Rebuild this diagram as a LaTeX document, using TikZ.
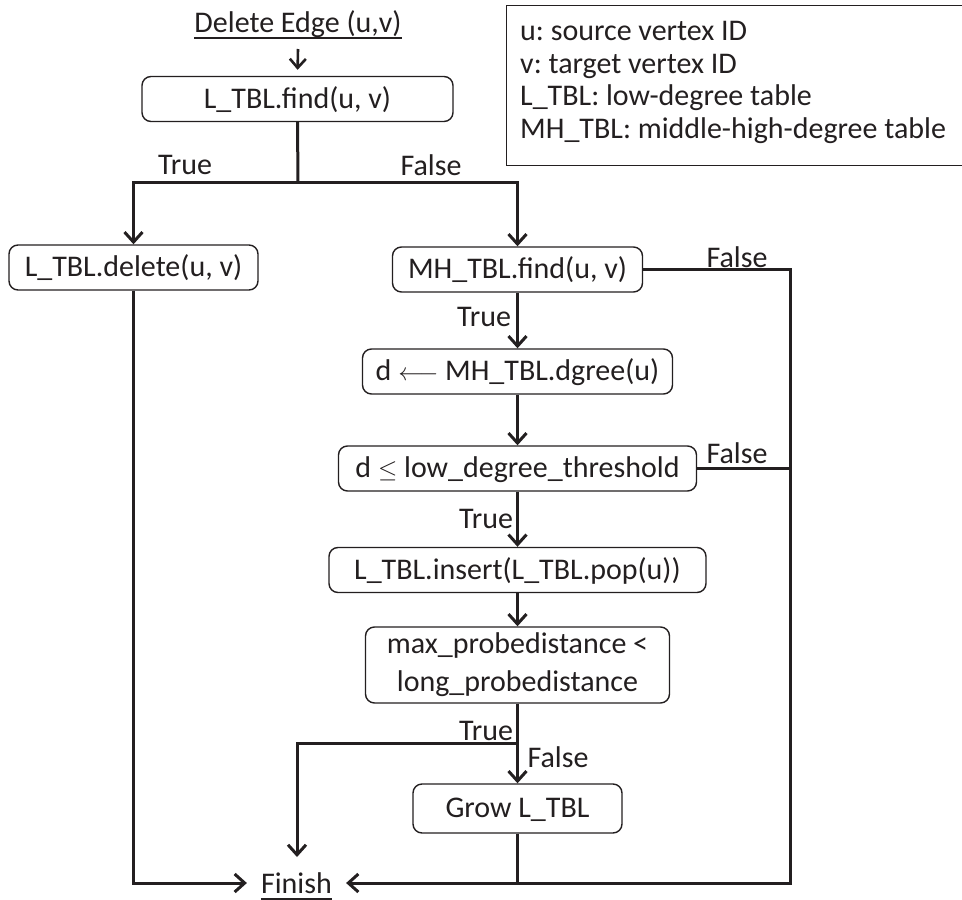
\documentclass[tikz,border=0pt]{standalone}
\usepackage{fontspec}
\setmainfont{Carlito}
\usetikzlibrary{arrows.meta}
\definecolor{ink}{RGB}{35,31,32}
\frenchspacing
\begin{document}
\begin{tikzpicture}[x=1pt,y=-1pt,
  every node/.style={font=\fontsize{30}{38}\selectfont, text=ink},
  boxbase/.style={draw=ink, line width=1.4pt, rounded corners=9pt, inner sep=0pt},
  stepbox/.style={boxbase, minimum height=45pt, text height=21pt, text depth=3pt},
  flow/.style={draw=ink, line width=3pt},
  arr/.style={flow, -{Straight Barb[length=10pt,width=18pt]}},
  lbl/.style={inner sep=0pt},
  uline/.style={draw=ink, line width=1.8pt},
]
\useasboundingbox (0,0) rectangle (962,900);

% start
\node[lbl, anchor=base] (start) at (298,32) {Delete Edge (u,v)};
\draw[uline] ([yshift=-6pt]start.base west) -- ([yshift=-6pt]start.base east);
\coordinate (startout) at (298,49);

% boxes
\node[stepbox, minimum width=311pt] (find1) at (297.5,99) {L\_TBL.find(u, v)};
\node[stepbox, minimum width=249pt] (del) at (133.5,267.5) {L\_TBL.delete(u, v)};
\node[stepbox, minimum width=250pt] (mhfind) at (517.5,269.5) {MH\_TBL.find(u, v)};
\node[stepbox, minimum width=310pt] (deg) at (517.5,371.5) {d $\longleftarrow$ MH\_TBL.dgree(u)};
\node[stepbox, minimum width=358pt] (thr) at (517.5,468.5) {d $\leq$ low\_degree\_threshold};
\node[stepbox, minimum width=377pt] (ins) at (517.5,570) {L\_TBL.insert(L\_TBL.pop(u))};
\node[boxbase, minimum width=304pt, minimum height=76pt, align=center] (probe) at (517.5,665)
  {max\_probedistance <\\long\_probedistance};
\node[stepbox, minimum width=209pt, minimum height=49pt] (grow) at (517.5,808.5) {Grow L\_TBL};

% finish
\node[inner xsep=14pt, inner ysep=0pt] (fin) at (296.5,883) {Finish};
\draw[uline] ([xshift=14pt,yshift=-6pt]fin.base west) -- ([xshift=-14pt,yshift=-6pt]fin.base east);

% legend
\node[draw=ink, line width=1.4pt, minimum width=458pt, minimum height=160pt, anchor=north west, inner sep=0pt] (legend) at (506,5) {};
\node[lbl, anchor=base west] (k1) at (520,40.5) {u: source vertex ID};
\node[lbl, anchor=base west] (k2) at (520,73) {v: target vertex ID};
\node[lbl, anchor=base west] (k3) at (520,105.5) {L\_TBL: low-degree table};
\node[lbl, anchor=base west] (k4) at (520,138) {MH\_TBL: middle-high-degree table};

% helper points
\coordinate (split) at (298,182);
\coordinate (rail) at (790,883);
\coordinate (branch) at (517.5,743);
\coordinate (trueend) at (297,857);

% connectors
\draw[flow, line width=2.6pt, -{Straight Barb[length=9pt,width=16pt]}, shorten >=6pt] (startout) -- (find1.north);
\draw[flow] (find1.south) -- (split);
\draw[arr] (split) -| (del.north);
\draw[arr] (split) -| (mhfind.north);
\draw[arr] (mhfind.south) -- (deg.north);
\draw[arr] (deg.south) -- (thr.north);
\draw[arr] (thr.south) -- (ins.north);
\draw[arr] (ins.south) -- (probe.north);
\draw[flow] (probe.south) -- (branch);
\draw[arr] (branch) -- (grow.north);
\draw[arr] (branch) -| (trueend);
\draw[arr] (del.south) |- (fin.west);
\draw[arr] (mhfind.east) -| (rail) -- (fin.east);
\draw[flow] (thr.east) -- (thr.east -| rail);
\draw[flow] (grow.south) -- (grow.south |- fin.east);

% branch labels
\node[lbl] (t1) at (185,165) {True};
\node[lbl] (f1) at (431,165) {False};
\node[lbl] (f2) at (737,257) {False};
\node[lbl] (t2) at (484,317) {True};
\node[lbl] (f3) at (737,453) {False};
\node[lbl] (t3) at (486,519) {True};
\node[lbl] (t4) at (486,731) {True};
\node[lbl] (f4) at (558,757) {False};
\end{tikzpicture}
\end{document}
